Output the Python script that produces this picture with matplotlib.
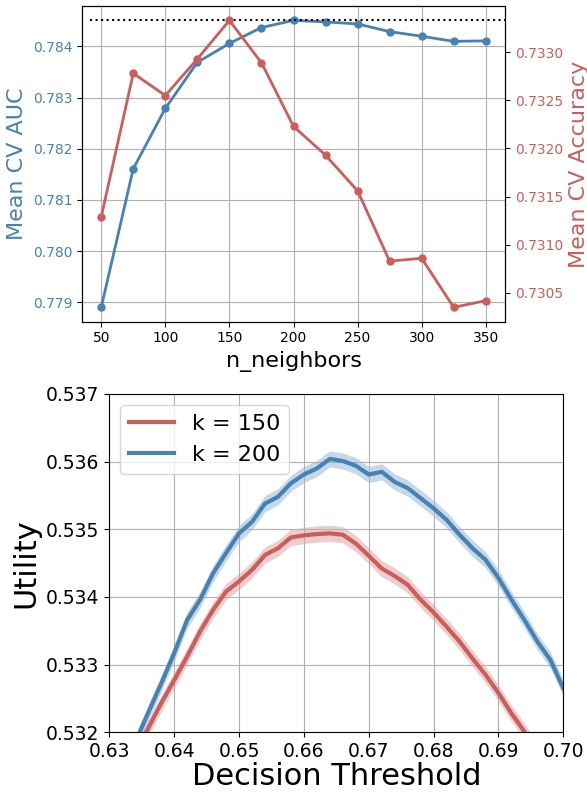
import numpy as np
import matplotlib
matplotlib.use("Agg")
import matplotlib.pyplot as plt

# --- top panel: CV scores vs n_neighbors ---
n_neighbors = [50, 75, 100, 125, 150, 175, 200, 225, 250, 275, 300, 325, 350]
mean_auc = [0.77890, 0.78161, 0.78279, 0.78369, 0.78406, 0.78437, 0.78451,
            0.78448, 0.78444, 0.78429, 0.78420, 0.78410, 0.78411]
mean_acc = [0.73129, 0.73278, 0.73255, 0.73293, 0.73333, 0.73289, 0.73223,
            0.73193, 0.73156, 0.73083, 0.73086, 0.73035, 0.73042]

# --- bottom panel: utility vs decision threshold ---
thresholds = np.linspace(0.63, 0.70, 36)
util_k150 = [0.53090, 0.53130, 0.53168, 0.53206, 0.53243, 0.53277, 0.53312, 0.53349,
             0.53381, 0.53408, 0.53423, 0.53440, 0.53462, 0.53472, 0.53488, 0.53491,
             0.53493, 0.53494, 0.53492, 0.53479, 0.53461, 0.53442, 0.53431, 0.53418,
             0.53396, 0.53377, 0.53356, 0.53334, 0.53309, 0.53285, 0.53258, 0.53228,
             0.53201, 0.53172, 0.53142, 0.53110]
util_k200 = [0.53100, 0.53142, 0.53185, 0.53229, 0.53272, 0.53317, 0.53366, 0.53396,
             0.53435, 0.53465, 0.53494, 0.53511, 0.53538, 0.53548, 0.53568, 0.53581,
             0.53590, 0.53604, 0.53601, 0.53594, 0.53581, 0.53585, 0.53570, 0.53561,
             0.53546, 0.53531, 0.53514, 0.53492, 0.53472, 0.53455, 0.53428, 0.53396,
             0.53366, 0.53334, 0.53307, 0.53265]
band_k150 = 0.00012
band_k200 = 0.00012

blue = "steelblue"
red = "indianred"

fig = plt.figure(figsize=(5.87, 7.94), dpi=100)

# top
ax1 = fig.add_axes([0.1397, 0.5948, 0.7206, 0.3976])
ax1.plot(n_neighbors, mean_auc, color=blue, marker="o", lw=2, ms=5)
ax1.axhline(max(mean_auc), color="black", linestyle=":", lw=1.5, xmin=0.02)
ax1.set_xlabel("n_neighbors", fontsize=16)
ax1.set_ylabel("Mean CV AUC", color=blue, fontsize=16)
ax1.tick_params(axis="y", labelcolor=blue, labelsize=10)
ax1.tick_params(axis="x", labelsize=10)
ax1.set_xticks([50, 100, 150, 200, 250, 300, 350])
ax1.grid(True)

ax2 = ax1.twinx()
ax2.plot(n_neighbors, mean_acc, color=red, marker="o", lw=2, ms=5)
ax2.set_ylabel("Mean CV Accuracy", color=red, fontsize=16)
ax2.tick_params(axis="y", labelcolor=red, labelsize=10)
ax2.yaxis.set_major_formatter(matplotlib.ticker.FormatStrFormatter("%.4f"))

# bottom
ax3 = fig.add_axes([0.1862, 0.0777, 0.7735, 0.4261])
ax3.plot(thresholds, util_k150, color=red, lw=3, label="k = 150")
ax3.fill_between(thresholds, np.array(util_k150) - band_k150,
                 np.array(util_k150) + band_k150, color=red, alpha=0.3, lw=0)
ax3.plot(thresholds, util_k200, color=blue, lw=3, label="k = 200")
ax3.fill_between(thresholds, np.array(util_k200) - band_k200,
                 np.array(util_k200) + band_k200, color=blue, alpha=0.3, lw=0)
ax3.set_xlim(0.63, 0.70)
ax3.set_ylim(0.532, 0.537)
ax3.set_xlabel("Decision Threshold", fontsize=22, labelpad=1)
ax3.set_ylabel("Utility", fontsize=22)
ax3.tick_params(labelsize=13.5)
ax3.grid(True)
ax3.legend(loc="upper left", fontsize=16)

fig.savefig("out.png", dpi=100)
